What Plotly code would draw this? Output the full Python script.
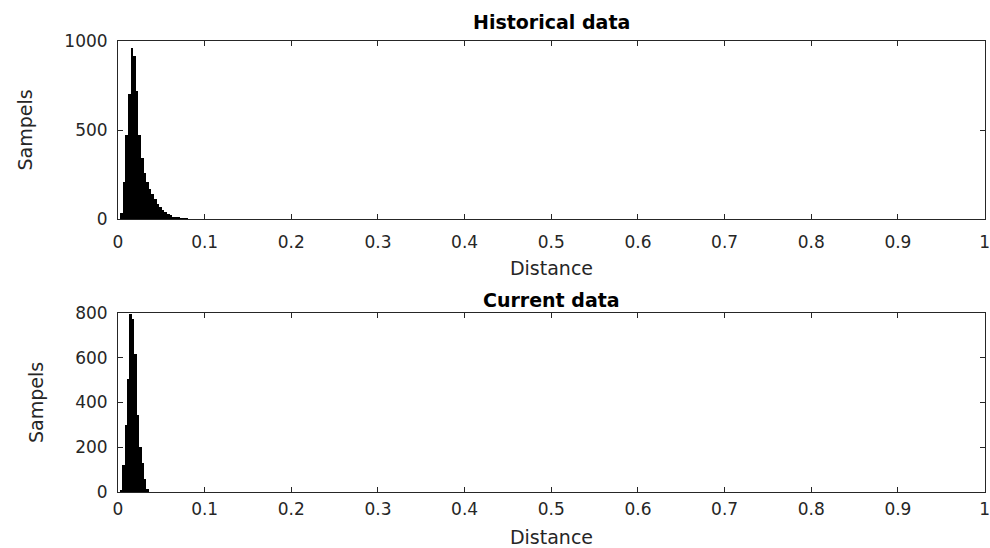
import plotly.graph_objects as go

# Histogram of distances, historical data (bin start, width and counts)
hist_bin_start = 0.0025
hist_bin_width = 0.003
hist_counts = [35, 210, 470, 705, 960, 915, 720, 470, 340, 260, 210, 170,
               140, 115, 85, 68, 52, 40, 28, 20, 14, 10, 7, 5, 3, 2]

# Histogram of distances, current data
cur_bin_start = 0.0020
cur_bin_width = 0.0028
cur_counts = [10, 120, 300, 505, 795, 775, 615, 345, 200, 130, 60, 15]

x_ticks = [0, 0.1, 0.2, 0.3, 0.4, 0.5, 0.6, 0.7, 0.8, 0.9, 1]
x_tick_text = ["0", "0.1", "0.2", "0.3", "0.4", "0.5", "0.6", "0.7", "0.8", "0.9", "1"]
hist_y_ticks = [0, 500, 1000]
cur_y_ticks = [0, 200, 400, 600, 800]

FONT = "DejaVu Sans"
INK = "#262626"
W, H = 990, 548


def centers(start, width, n):
    return [start + width * (i + 0.5) for i in range(n)]


fig = go.Figure()
fig.add_trace(go.Bar(
    x=centers(hist_bin_start, hist_bin_width, len(hist_counts)),
    y=hist_counts, width=hist_bin_width,
    marker=dict(color="black", line=dict(width=0)),
    xaxis="x", yaxis="y", showlegend=False))
fig.add_trace(go.Bar(
    x=centers(cur_bin_start, cur_bin_width, len(cur_counts)),
    y=cur_counts, width=cur_bin_width,
    marker=dict(color="black", line=dict(width=0)),
    xaxis="x2", yaxis="y2", showlegend=False))

x_dom = [118 / W, 985 / W]
top_dom = [1 - 219 / H, 1 - 41 / H]
bot_dom = [1 - 492 / H, 1 - 313 / H]

axis_common = dict(
    showline=True, linecolor=INK, linewidth=1, mirror="ticks",
    ticks="inside", ticklen=5, tickcolor=INK, tickwidth=1,
    showgrid=False, zeroline=False, automargin=False,
    tickfont=dict(family=FONT, size=17, color=INK),
)


def xaxis(anchor, label_gap, title_gap):
    return dict(axis_common, domain=x_dom, anchor=anchor, range=[0, 1.0005],
                tickvals=x_ticks, ticktext=x_tick_text,
                ticklabelstandoff=label_gap,
                title=dict(text="Distance", standoff=title_gap,
                           font=dict(family=FONT, size=19, color=INK)))


def yaxis(anchor, domain, rng, ticks):
    return dict(axis_common, domain=domain, anchor=anchor, range=rng,
                tickvals=ticks, ticklabelstandoff=6,
                title=dict(text="Sampels", standoff=26,
                           font=dict(family=FONT, size=19, color=INK)))


fig.update_layout(
    width=W, height=H,
    margin=dict(l=0, r=0, t=0, b=0),
    paper_bgcolor="white", plot_bgcolor="white",
    bargap=0,
    xaxis=xaxis("y", 8, 10),
    yaxis=yaxis("x", top_dom, [0, 1000], hist_y_ticks),
    xaxis2=xaxis("y2", 2, 15),
    yaxis2=yaxis("x2", bot_dom, [0, 800], cur_y_ticks),
    annotations=[
        dict(text="<b>Historical data</b>", xref="paper", yref="paper",
             x=sum(x_dom) / 2, y=1 - 22 / H, xanchor="center", yanchor="middle",
             showarrow=False, font=dict(family=FONT, size=19, color="black")),
        dict(text="<b>Current data</b>", xref="paper", yref="paper",
             x=sum(x_dom) / 2, y=1 - 300 / H, xanchor="center", yanchor="middle",
             showarrow=False, font=dict(family=FONT, size=19, color="black")),
    ],
)

fig.write_html("out.html")
